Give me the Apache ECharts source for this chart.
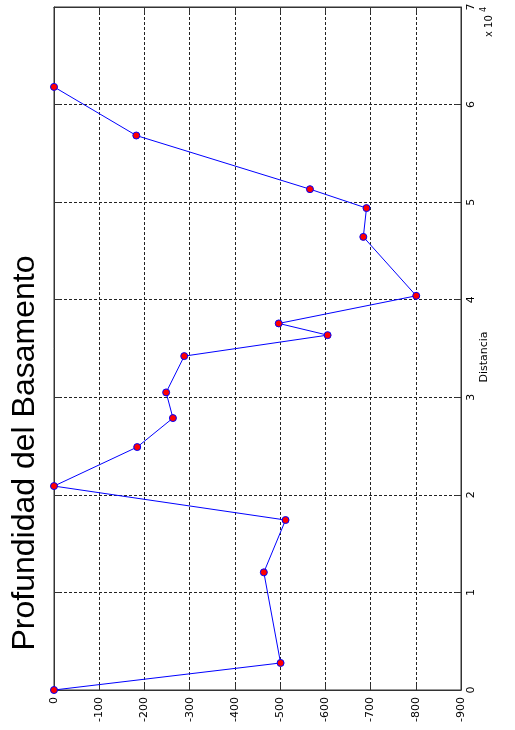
<!DOCTYPE html>
<html>
<head>
<meta charset="utf-8">
<script src="https://cdn.jsdelivr.net/npm/echarts@6/dist/echarts.min.js"></script>
<style>
html,body{margin:0;padding:0;background:#fff;}
#main{width:515px;height:730px;}
</style>
</head>
<body>
<div id="main"></div>
<script>
// Distance along profile (m) and basement depth (m)
const distancia = [0, 2770, 12060, 17420, 20900, 24900, 27870, 30500, 34220, 36370, 37570, 40400, 46440, 49390, 51330, 56830, 61810];
const profundidad = [0, -501, -464, -512, 0, -184, -263, -248, -288, -605, -497, -801, -684, -691, -566, -182, 0];
const depthTicks = [0, -100, -200, -300, -400, -500, -600, -700, -800, -900];
const distTicks = [0, 1, 2, 3, 4, 5, 6, 7];
const titulo = 'Profundidad del Basamento';
const ejeNombre = 'Distancia';

const chart = echarts.init(document.getElementById('main'), null, {renderer: 'canvas'});
const pts = distancia.map((d, i) => [profundidad[i], d]);
const smallFont = {fontFamily: 'DejaVu Sans', fontSize: 11, color: '#000'};
const axisCol = '#333';
const gridLine = {show: true, lineStyle: {color: '#222', type: [3, 2], width: 1}};

const option = {
  backgroundColor: '#fff',
  animation: false,
  grid: {left: 54, right: 54, top: 7, bottom: 40, show: true, borderColor: axisCol, borderWidth: 1, backgroundColor: 'transparent'},
  xAxis: [{
    type: 'value', min: -900, max: 0, interval: 100, inverse: true, position: 'bottom',
    axisLine: {show: true, onZero: false, lineStyle: {color: axisCol}},
    axisTick: {show: true, inside: true, length: 6, lineStyle: {color: axisCol}},
    axisLabel: Object.assign({rotate: 90, margin: 7, formatter: v => depthTicks.includes(v) ? String(v) : ''}, smallFont),
    splitLine: gridLine
  }, {
    type: 'value', min: -900, max: 0, interval: 100, inverse: true, position: 'top',
    axisLine: {show: true, onZero: false, lineStyle: {color: axisCol}},
    axisTick: {show: true, inside: true, length: 6, lineStyle: {color: axisCol}},
    axisLabel: {show: false}, splitLine: {show: false}
  }],
  yAxis: [{
    type: 'value', min: 0, max: 70000, interval: 10000, position: 'right',
    axisLine: {show: true, onZero: false, lineStyle: {color: axisCol}},
    axisTick: {show: true, inside: true, length: 6, lineStyle: {color: axisCol}},
    axisLabel: Object.assign({rotate: 90, margin: 5, formatter: v => String(distTicks[Math.round(v / 10000)])}, smallFont),
    splitLine: gridLine
  }, {
    type: 'value', min: 0, max: 70000, interval: 10000, position: 'left',
    axisLine: {show: true, onZero: false, lineStyle: {color: axisCol}},
    axisTick: {show: true, inside: true, length: 6, lineStyle: {color: axisCol}},
    axisLabel: {show: false}, splitLine: {show: false}
  }],
  series: [{
    type: 'line',
    xAxisIndex: 0, yAxisIndex: 0,
    data: pts,
    showSymbol: true,
    symbol: 'circle',
    symbolSize: 7,
    lineStyle: {color: '#0000ff', width: 1},
    itemStyle: {color: '#ff0000', borderColor: '#0000ff', borderWidth: 1},
    z: 5
  }],
  graphic: [
    {type: 'text', x: 25, y: 453, rotation: Math.PI / 2,
     style: {text: titulo, x: 0, y: 0, align: 'center', verticalAlign: 'middle', fontFamily: 'Liberation Sans', fontSize: 32, fill: '#000'}},
    {type: 'text', x: 484, y: 357, rotation: Math.PI / 2,
     style: {text: ejeNombre, x: 0, y: 0, align: 'center', verticalAlign: 'middle', fontFamily: 'DejaVu Sans', fontSize: 11, fill: '#000'}},
    {type: 'text', x: 489, y: 37, rotation: Math.PI / 2,
     style: {text: 'x 10', x: 0, y: 0, align: 'left', verticalAlign: 'middle', fontFamily: 'DejaVu Sans', fontSize: 10, fill: '#000'}},
    {type: 'text', x: 484, y: 12, rotation: Math.PI / 2,
     style: {text: '4', x: 0, y: 0, align: 'left', verticalAlign: 'middle', fontFamily: 'DejaVu Sans', fontSize: 8, fill: '#000'}}
  ]
};
chart.setOption(option);
</script>
</body>
</html>
